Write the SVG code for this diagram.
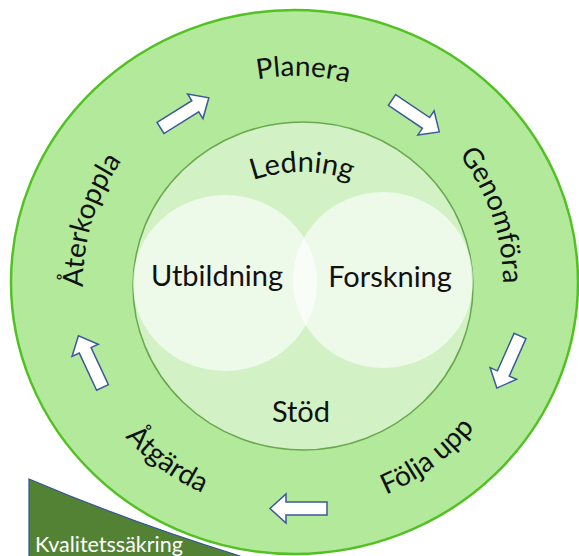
<svg xmlns="http://www.w3.org/2000/svg" xmlns:xlink="http://www.w3.org/1999/xlink" width="579" height="556" viewBox="0 0 579 556">
  <style>
    .lbl { font-family: Lato, "Open Sans", "DejaVu Sans", sans-serif; fill: #111111; }
    .ring { font-size: 28px; }
    .core { font-size: 29px; }
    .arrow { fill: #ffffff; stroke: #3b5a98; stroke-width: 1.5; stroke-linejoin: miter; }
  </style>
  <defs>
    <polygon id="blockArrow" points="0,-6.5 41,-6.5 41,-14.5 57,0 41,14.5 41,6.5 0,6.5"/>
    <path id="pPlanera" d="M168.5,119.8 A207,207 0 0 1 434.5,129.1"/>
    <path id="pGenomfora" d="M402.6,105.6 A207,207 0 0 1 489.3,357.2"/>
    <path id="pAterkoppla" d="M99.9,366.2 A213,213 0 0 1 180.0,104.4"/>
    <path id="pFolja" d="M284.0,512.7 A230,230 0 0 0 520.1,334.7"/>
    <path id="pAtgarda" d="M72.8,338.6 A230,230 0 0 0 312.0,512.4"/>
    <path id="pLedning" d="M205.6,207.1 A150,150 0 0 1 398.4,207.1"/>
  </defs>

  <g id="kvalitetssakring">
    <path d="M29,479 Q130,522 240,556 L240,560 L29,560 Z" fill="#548235" stroke="#2f5597" stroke-width="1.2"/>
    <text x="35" y="552" font-family="Lato, 'Open Sans', sans-serif" font-size="21.5" fill="#ffffff">Kvalitetssäkring</text>
  </g>

  <g id="outer-ring">
    <ellipse cx="294.5" cy="282" rx="283.5" ry="272" fill="#b3e99b" stroke="#52c123" stroke-width="2.5"/>
  </g>

  <g id="inner-circle">
    <ellipse cx="303" cy="286" rx="170" ry="164" fill="#d2f2c5" stroke="#6aa84f" stroke-width="1.5"/>
  </g>

  <g id="utbildning">
    <ellipse cx="225" cy="283" rx="92" ry="88" fill="#ffffff" fill-opacity="0.62"/>
    <text class="lbl core" x="217" y="286" text-anchor="middle">Utbildning</text>
  </g>

  <g id="forskning">
    <ellipse cx="383" cy="280" rx="90" ry="88" fill="#ffffff" fill-opacity="0.62"/>
    <text class="lbl core" x="390" y="287" text-anchor="middle">Forskning</text>
  </g>

  <g id="ledning">
    <text class="lbl core"><textPath href="#pLedning" xlink:href="#pLedning" startOffset="50%" text-anchor="middle">Ledning</textPath></text>
  </g>

  <g id="stod">
    <text class="lbl core" x="301" y="422" text-anchor="middle">Stöd</text>
  </g>

  <g id="planera">
    <text class="lbl ring"><textPath href="#pPlanera" xlink:href="#pPlanera" startOffset="50%" text-anchor="middle">Planera</textPath></text>
  </g>
  <g id="genomfora">
    <text class="lbl ring"><textPath href="#pGenomfora" xlink:href="#pGenomfora" startOffset="50%" text-anchor="middle">Genomföra</textPath></text>
  </g>
  <g id="folja-upp">
    <text class="lbl ring"><textPath href="#pFolja" xlink:href="#pFolja" startOffset="50%" text-anchor="middle">Följa upp</textPath></text>
  </g>
  <g id="atgarda">
    <text class="lbl ring"><textPath href="#pAtgarda" xlink:href="#pAtgarda" startOffset="50%" text-anchor="middle">Åtgärda</textPath></text>
  </g>
  <g id="aterkoppla">
    <text class="lbl ring"><textPath href="#pAterkoppla" xlink:href="#pAterkoppla" startOffset="50%" text-anchor="middle">Återkoppla</textPath></text>
  </g>

  <g id="connectors">
    <use href="#blockArrow" xlink:href="#blockArrow" class="arrow" transform="translate(160.5,128) rotate(-32)"/>
    <use href="#blockArrow" xlink:href="#blockArrow" class="arrow" transform="translate(392,100) rotate(34)"/>
    <use href="#blockArrow" xlink:href="#blockArrow" class="arrow" transform="translate(520,336) rotate(114)"/>
    <use href="#blockArrow" xlink:href="#blockArrow" class="arrow" transform="translate(327,508.5) rotate(180)"/>
    <use href="#blockArrow" xlink:href="#blockArrow" class="arrow" transform="translate(102.5,387.5) rotate(-115)"/>
  </g>
</svg>
